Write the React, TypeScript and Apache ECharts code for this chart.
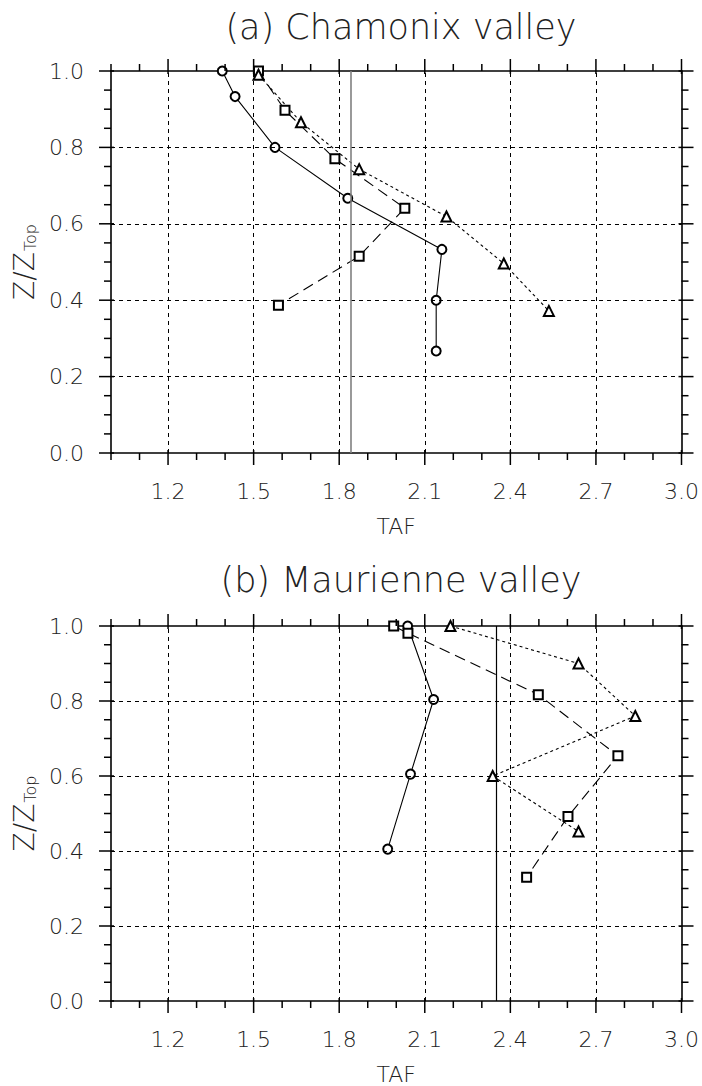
import React, { useEffect, useRef } from "react";
import * as echarts from "echarts";

// ---- data ----
const titles = ["(a) Chamonix valley", "(b) Maurienne valley"];
const xMajorTicks = [1.2, 1.5, 1.8, 2.1, 2.4, 2.7, 3.0];
const xMinorTicks = [1.0, 1.1, 1.3, 1.4, 1.6, 1.7, 1.9, 2.0, 2.2, 2.3, 2.5, 2.6, 2.8, 2.9];
const yMajorTicks = [0, 0.2, 0.4, 0.6, 0.8, 1.0];
const yMinorTicks = [0.05, 0.1, 0.15, 0.25, 0.3, 0.35, 0.45, 0.5, 0.55, 0.65, 0.7, 0.75, 0.85, 0.9, 0.95];
const xGridValues = [1.2, 1.5, 1.8, 2.1, 2.4, 2.7];
const yGridValues = [0.2, 0.4, 0.6, 0.8];

const aCircleX = [1.39, 1.435, 1.575, 1.83, 2.16, 2.14, 2.14];
const aCircleY = [1.0, 0.933, 0.8, 0.667, 0.533, 0.4, 0.267];
const aSquareX = [1.517, 1.61, 1.785, 2.03, 1.87, 1.587];
const aSquareY = [1.0, 0.897, 0.77, 0.641, 0.515, 0.387];
const aTriX = [1.517, 1.666, 1.87, 2.176, 2.377, 2.535];
const aTriY = [0.99, 0.866, 0.743, 0.619, 0.496, 0.372];
const aRef = 1.837;

const bCircleX = [2.04, 2.131, 2.05, 1.97];
const bCircleY = [1.0, 0.804, 0.605, 0.405];
const bSquareX = [1.991, 2.041, 2.498, 2.777, 2.602, 2.457];
const bSquareY = [1.0, 0.981, 0.817, 0.654, 0.492, 0.33];
const bTriX = [2.19, 2.639, 2.838, 2.338, 2.639];
const bTriY = [1.0, 0.9, 0.76, 0.6, 0.452];
const bRef = 2.347;

const FONT = '"DejaVu Sans", sans-serif';
const FW = 200;
const TXT = "#222";
const X_MIN = 1.0, X_MAX = 3.0, Y_MIN = 0, Y_MAX = 1.0;
const MAJOR_LEN = 12, MINOR_LEN = 7, MAJOR_IN = 3;

const pairs = (xs: number[], ys: number[]) => xs.map((v, i) => [v, ys[i]]);

function tickData() {
  // [x, y, kind (0 = x tick, 1 = y tick), length, inward length]
  const d: number[][] = [];
  xMajorTicks.forEach((v) => d.push([v, Y_MIN, 0, MAJOR_LEN, MAJOR_IN]));
  xMinorTicks.forEach((v) => d.push([v, Y_MIN, 0, MINOR_LEN, 0]));
  yMajorTicks.forEach((v) => d.push([X_MIN, v, 1, MAJOR_LEN, MAJOR_IN]));
  yMinorTicks.forEach((v) => d.push([X_MIN, v, 1, MINOR_LEN, 0]));
  return d;
}

function renderTick(_params: any, api: any) {
  const kind = api.value(2);
  const len = api.value(3);
  const inn = api.value(4);
  const st = { stroke: "#000", lineWidth: 1.5 };
  if (kind === 0) {
    const x = api.value(0);
    const pb = api.coord([x, Y_MIN]);
    const pt = api.coord([x, Y_MAX]);
    return {
      type: "group",
      children: [
        { type: "line", shape: { x1: pb[0], y1: pb[1] - inn, x2: pb[0], y2: pb[1] + len }, style: st },
        { type: "line", shape: { x1: pt[0], y1: pt[1] + inn, x2: pt[0], y2: pt[1] - len }, style: st },
      ],
    };
  }
  const y = api.value(1);
  const pl = api.coord([X_MIN, y]);
  const pr = api.coord([X_MAX, y]);
  return {
    type: "group",
    children: [
      { type: "line", shape: { x1: pl[0] + inn, y1: pl[1], x2: pl[0] - len, y2: pl[1] }, style: st },
      { type: "line", shape: { x1: pr[0] - inn, y1: pr[1], x2: pr[0] + len, y2: pr[1] }, style: st },
    ],
  };
}

function buildOption() {
  const grids = [
    { left: 111, top: 71, width: 571, height: 382 },
    { left: 111, top: 626, width: 571, height: 382 },
  ];
  const panels = [
    { c: pairs(aCircleX, aCircleY), s: pairs(aSquareX, aSquareY), t: pairs(aTriX, aTriY), ref: aRef, refColor: "#808080", refWidth: 1.6 },
    { c: pairs(bCircleX, bCircleY), s: pairs(bSquareX, bSquareY), t: pairs(bTriX, bTriY), ref: bRef, refColor: "#000", refWidth: 1.2 },
  ];
  const xAxes: any[] = [];
  const yAxes: any[] = [];
  const series: any[] = [];
  const line = () => ({ show: true, onZero: false, lineStyle: { color: "#000", width: 1.6 } });
  const labelStyle = { fontSize: 22, fontFamily: FONT, fontWeight: FW, color: TXT };

  grids.forEach((_, g) => {
    xAxes.push({
      type: "value", gridIndex: g, min: X_MIN, max: X_MAX, position: "bottom",
      axisLine: line(), splitLine: { show: false }, axisTick: { show: false },
      axisLabel: { show: true, customValues: xMajorTicks, margin: 27, ...labelStyle, formatter: (v: number) => v.toFixed(1) },
      name: "TAF", nameLocation: "middle", nameGap: 62,
      nameTextStyle: { ...labelStyle },
    });
    xAxes.push({
      type: "value", gridIndex: g, min: X_MIN, max: X_MAX, position: "top",
      axisLine: line(), splitLine: { show: false }, axisTick: { show: false }, axisLabel: { show: false },
    });
    yAxes.push({
      type: "value", gridIndex: g, min: Y_MIN, max: Y_MAX, interval: 0.2, position: "left",
      axisLine: line(), splitLine: { show: false }, axisTick: { show: false },
      axisLabel: { show: true, margin: 27, ...labelStyle, formatter: (v: number) => v.toFixed(1) },
      name: "{a|Z/Z}{b|Top}", nameLocation: "middle", nameGap: 66,
      nameTextStyle: {
        color: TXT,
        rich: {
          a: { fontSize: 28, fontFamily: FONT, fontWeight: FW, color: TXT, lineHeight: 30, verticalAlign: "bottom" },
          b: { fontSize: 16, fontFamily: FONT, fontWeight: FW, color: TXT, lineHeight: 30, verticalAlign: "bottom", padding: [0, 0, 0, 1] },
        },
      },
    });
    yAxes.push({
      type: "value", gridIndex: g, min: Y_MIN, max: Y_MAX, interval: 0.2, position: "right",
      axisLine: line(), splitLine: { show: false }, axisTick: { show: false }, axisLabel: { show: false },
    });

    const xi = g * 2;
    const yi = g * 2;
    const p = panels[g];
    series.push({
      type: "custom", xAxisIndex: xi, yAxisIndex: yi, z: 5, clip: false, silent: true,
      renderItem: renderTick, data: tickData(),
    });
    series.push({
      type: "line", xAxisIndex: xi, yAxisIndex: yi, z: 1, data: p.c, showSymbol: false, silent: true,
      lineStyle: { width: 0, opacity: 0 },
      markLine: {
        silent: true, symbol: ["none", "none"], label: { show: false },
        lineStyle: { type: [4, 4], color: "#000", width: 1 },
        emphasis: { disabled: true },
        data: [
          ...xGridValues.map((v) => ({ xAxis: v })),
          ...yGridValues.map((v) => ({ yAxis: v })),
        ],
      },
    });
    series.push({
      type: "line", xAxisIndex: xi, yAxisIndex: yi, z: 2, data: p.c, showSymbol: false, silent: true,
      lineStyle: { width: 0, opacity: 0 },
      markLine: {
        silent: true, symbol: ["none", "none"], label: { show: false },
        lineStyle: { type: "solid", color: p.refColor, width: p.refWidth },
        emphasis: { disabled: true },
        data: [{ xAxis: p.ref }],
      },
    });
    series.push({
      type: "line", xAxisIndex: xi, yAxisIndex: yi, z: 4, data: p.c, symbol: "emptyCircle", symbolSize: 9,
      lineStyle: { color: "#000", width: 1.1, type: "solid" }, itemStyle: { color: "#000", borderWidth: 1 },
    });
    series.push({
      type: "line", xAxisIndex: xi, yAxisIndex: yi, z: 4, data: p.s, symbol: "emptyRect", symbolSize: 9,
      lineStyle: { color: "#000", width: 1.1, type: [11, 6] }, itemStyle: { color: "#000", borderWidth: 1 },
    });
    series.push({
      type: "line", xAxisIndex: xi, yAxisIndex: yi, z: 4, data: p.t, symbol: "emptyTriangle", symbolSize: 10,
      lineStyle: { color: "#000", width: 1.1, type: [3, 3] }, itemStyle: { color: "#000", borderWidth: 1 },
    });
  });

  return {
    animation: false,
    backgroundColor: "#fff",
    grid: grids,
    xAxis: xAxes,
    yAxis: yAxes,
    series,
    graphic: [
      { type: "text", x: 401, y: 27, style: { text: titles[0], fontSize: 35, fontFamily: FONT, fontWeight: FW, fill: TXT, align: "center", verticalAlign: "middle" } },
      { type: "text", x: 401, y: 580, style: { text: titles[1], fontSize: 35, fontFamily: FONT, fontWeight: FW, fill: TXT, align: "center", verticalAlign: "middle" } },
    ],
  };
}

export default function App() {
  const ref = useRef<HTMLDivElement>(null);
  useEffect(() => {
    if (!ref.current) return;
    const chart = echarts.init(ref.current, undefined, { renderer: "svg" });
    chart.setOption(buildOption() as any);
    return () => chart.dispose();
  }, []);
  return <div ref={ref} style={{ position: "absolute", left: 0, top: 0, width: 702, height: 1086 }} />;
}
